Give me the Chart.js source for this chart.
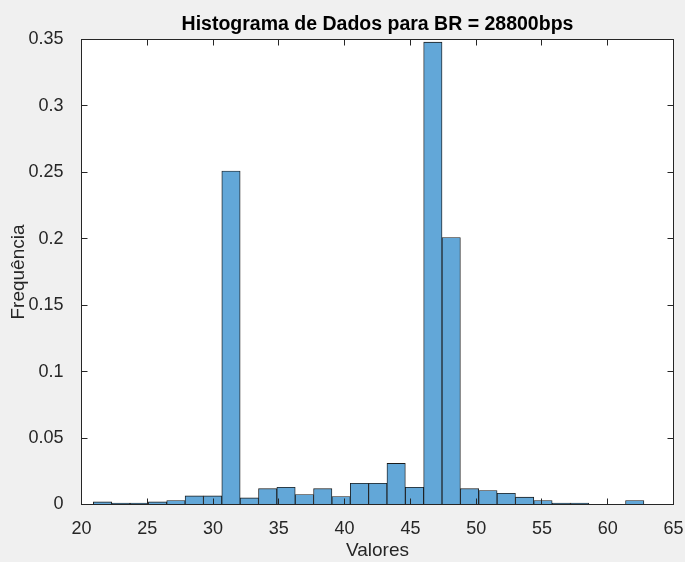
<!DOCTYPE html>
<html>
<head>
<meta charset="utf-8">
<script src="https://cdn.jsdelivr.net/npm/chart.js@4/dist/chart.umd.min.js"></script>
<style>
  html, body { margin: 0; padding: 0; background: #f0f0f0; }
  #wrap { width: 685px; height: 562px; }
</style>
</head>
<body>
<div id="wrap"><canvas id="histChart"></canvas></div>
<script>
// Limites das classes (30 classes) e frequência relativa de cada uma
const binEdges = [20.9, 22.295, 23.69, 25.085, 26.48, 27.875, 29.27, 30.665, 32.06, 33.455,
                  34.85, 36.245, 37.64, 39.035, 40.43, 41.825, 43.22, 44.615, 46.01, 47.405,
                  48.8, 50.195, 51.59, 52.985, 54.38, 55.775, 57.17, 58.565, 59.96, 61.355, 62.75];
const frequencia = [0.002, 0.001, 0.001, 0.002, 0.003, 0.0065, 0.0065, 0.251, 0.005, 0.012,
                    0.013, 0.0075, 0.012, 0.006, 0.016, 0.016, 0.031, 0.013, 0.348, 0.201,
                    0.012, 0.0105, 0.0085, 0.0055, 0.003, 0.001, 0.001, 0, 0, 0.003];
const xTicks = [20, 25, 30, 35, 40, 45, 50, 55, 60, 65];
const yTicks = [0, 0.05, 0.1, 0.15, 0.2, 0.25, 0.3, 0.35];
const titulo = 'Histograma de Dados para BR = 28800bps';

const pontos = frequencia.map((f, i) => ({ x: (binEdges[i] + binEdges[i + 1]) / 2, y: f }));

Chart.defaults.font.family = '"Liberation Sans", Arial, sans-serif';
Chart.defaults.color = '#262626';

// fundo branco dos eixos, moldura, ticks para dentro e título
const eixosMatlab = {
  id: 'eixosMatlab',
  beforeDraw(chart) {
    const { ctx, chartArea: a } = chart;
    ctx.save();
    ctx.fillStyle = '#ffffff';
    ctx.fillRect(a.left, a.top, a.right - a.left, a.bottom - a.top);
    ctx.restore();
  },
  afterDatasetsDraw(chart) {
    const { ctx, chartArea: a, scales: { x, y } } = chart;
    const len = 6;
    ctx.save();
    ctx.strokeStyle = '#262626';
    ctx.lineWidth = 1;
    ctx.beginPath();
    xTicks.forEach(v => {
      const px = Math.round(x.getPixelForValue(v) - 0.5) + 0.5;
      ctx.moveTo(px, a.bottom); ctx.lineTo(px, a.bottom - len);
      ctx.moveTo(px, a.top); ctx.lineTo(px, a.top + len);
    });
    yTicks.forEach(v => {
      const py = Math.round(y.getPixelForValue(v) - 0.5) + 0.5;
      ctx.moveTo(a.left, py); ctx.lineTo(a.left + len, py);
      ctx.moveTo(a.right, py); ctx.lineTo(a.right - len, py);
    });
    ctx.stroke();
    ctx.strokeRect(a.left, a.top, a.right - a.left, a.bottom - a.top);

    ctx.fillStyle = '#000000';
    ctx.font = 'bold 19.5px "Liberation Sans", Arial, sans-serif';
    ctx.textAlign = 'center';
    ctx.textBaseline = 'middle';
    ctx.fillText(titulo, (a.left + a.right) / 2, 25);
    ctx.restore();
  }
};

new Chart(document.getElementById('histChart'), {
  type: 'bar',
  data: {
    datasets: [{
      label: 'Frequência',
      data: pontos,
      backgroundColor: '#62a7d8',
      borderColor: '#1a1a1a',
      borderWidth: 0.9,
      barPercentage: 1,
      categoryPercentage: 1
    }]
  },
  options: {
    responsive: true,
    maintainAspectRatio: false,
    animation: false,
    layout: { padding: { left: 0, right: 11.5, top: 39.5, bottom: 0 } },
    plugins: {
      legend: { display: false },
      tooltip: { enabled: false }
    },
    scales: {
      x: {
        type: 'linear',
        offset: false,
        min: 20,
        max: 65,
        afterBuildTicks: s => { s.ticks = xTicks.map(v => ({ value: v })); },
        afterFit: s => { s.height = 57.5; s.paddingLeft = 0; s.paddingRight = 0; },
        grid: { display: false },
        border: { display: false },
        ticks: { font: { size: 18 }, color: '#262626', padding: 6, maxRotation: 0 },
        title: { display: true, text: 'Valores', font: { size: 19 }, color: '#262626', padding: { top: 0, bottom: 0 } }
      },
      y: {
        min: 0,
        max: 0.35,
        afterBuildTicks: s => { s.ticks = yTicks.map(v => ({ value: v })); },
        afterFit: s => { s.width = 81.5; s.paddingTop = 0; s.paddingBottom = 0; },
        grid: { display: false },
        border: { display: false },
        ticks: { font: { size: 18 }, color: '#262626', padding: 10, callback: v => String(+v.toFixed(2)) },
        title: { display: true, text: 'Frequência', font: { size: 19 }, color: '#262626', padding: { top: 7.5, bottom: 0 } }
      }
    }
  },
  plugins: [eixosMatlab]
});
</script>
</body>
</html>
